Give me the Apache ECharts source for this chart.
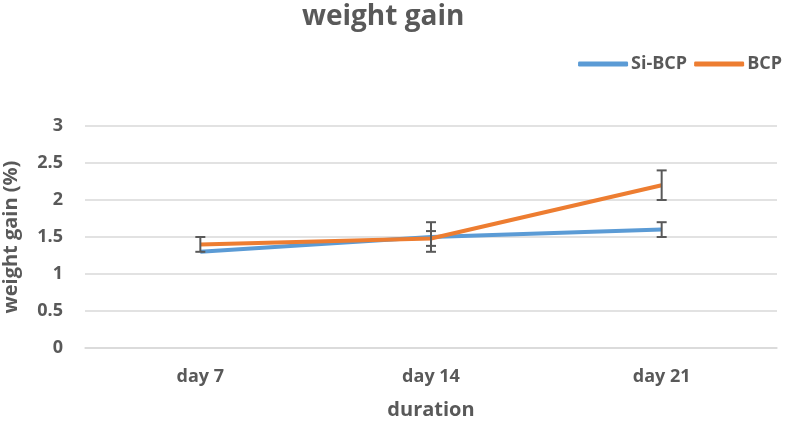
<!DOCTYPE html>
<html>
<head>
<meta charset="utf-8">
<script src="https://cdn.jsdelivr.net/npm/echarts@6/dist/echarts.min.js"></script>
<style>html,body{margin:0;padding:0;background:#fff}#c{width:787px;height:422px}</style>
</head>
<body>
<div id="c"></div>
<script>
var categories = ['day 7', 'day 14', 'day 21'];
var siBcp = [1.3, 1.5, 1.6];
var siBcpErr = [0, 0.2, 0.1];
var bcp = [1.4, 1.48, 2.2];
var bcpErr = [0.1, 0.1, 0.2];
var yTicks = [0, 0.5, 1, 1.5, 2, 2.5, 3];

var FONT = 'Open Sans';
var GRAY = '#595959';

function errData(vals, errs) {
  return vals.map(function (v, i) { return [i, v - errs[i], v + errs[i]]; });
}
function errSeries(vals, errs) {
  return {
    type: 'custom',
    z: 5,
    silent: true,
    renderItem: function (params, api) {
      var x = api.value(0);
      var lo = api.coord([x, api.value(1)]);
      var hi = api.coord([x, api.value(2)]);
      if (Math.abs(hi[1] - lo[1]) < 0.5) return null;
      var w = 5;
      var st = { stroke: GRAY, lineWidth: 2 };
      return {
        type: 'group',
        children: [
          { type: 'line', shape: { x1: lo[0], y1: lo[1], x2: hi[0], y2: hi[1] }, style: st },
          { type: 'line', shape: { x1: lo[0] - w, y1: lo[1], x2: lo[0] + w, y2: lo[1] }, style: st },
          { type: 'line', shape: { x1: hi[0] - w, y1: hi[1], x2: hi[0] + w, y2: hi[1] }, style: st }
        ]
      };
    },
    data: errData(vals, errs)
  };
}

var chart = echarts.init(document.getElementById('c'));
chart.setOption({
  animation: false,
  title: {
    text: 'weight gain', left: 297, top: -2,
    textStyle: { fontFamily: FONT, fontWeight: 'bold', fontSize: 28, color: GRAY }
  },
  legend: {
    right: 0, top: 50, itemWidth: 50, itemHeight: 5, itemGap: 7,
    icon: 'roundRect',
    textStyle: { fontFamily: FONT, fontWeight: 'bold', fontSize: 18, color: GRAY, padding: [0, 0, 0, -2] },
    data: ['Si-BCP', 'BCP']
  },
  grid: { left: 85, right: 10, top: 126, bottom: 74, outerBoundsMode: 'none' },
  xAxis: {
    type: 'category', data: categories,
    name: 'duration', nameLocation: 'middle', nameGap: 52,
    nameTextStyle: { fontFamily: FONT, fontWeight: 'bold', fontSize: 20, color: GRAY },
    axisLine: { show: true, lineStyle: { color: '#d9d9d9', width: 1.5 } },
    axisTick: { show: false },
    axisLabel: { fontFamily: FONT, fontWeight: 'bold', fontSize: 18, color: GRAY, margin: 20 }
  },
  yAxis: {
    type: 'value', min: 0, max: 3, interval: 0.5,
    name: 'weight gain (%)', nameLocation: 'middle', nameGap: 64,
    nameTextStyle: { fontFamily: FONT, fontWeight: 'bold', fontSize: 20, color: GRAY },
    axisLine: { show: false }, axisTick: { show: false },
    splitLine: { lineStyle: { color: '#d9d9d9', width: 1.5 } },
    axisLabel: {
      fontFamily: FONT, fontWeight: 'bold', fontSize: 18, color: GRAY, margin: 22,
      formatter: function (v) { return yTicks.indexOf(v) >= 0 ? String(v) : ''; }
    }
  },
  series: [
    { name: 'Si-BCP', type: 'line', data: siBcp, symbol: 'none', lineStyle: { width: 4, color: '#5B9BD5' }, itemStyle: { color: '#5B9BD5' }, z: 2 },
    { name: 'BCP', type: 'line', data: bcp, symbol: 'none', lineStyle: { width: 4, color: '#ED7D31' }, itemStyle: { color: '#ED7D31' }, z: 3 },
    errSeries(siBcp, siBcpErr),
    errSeries(bcp, bcpErr)
  ]
});
</script>
</body>
</html>
